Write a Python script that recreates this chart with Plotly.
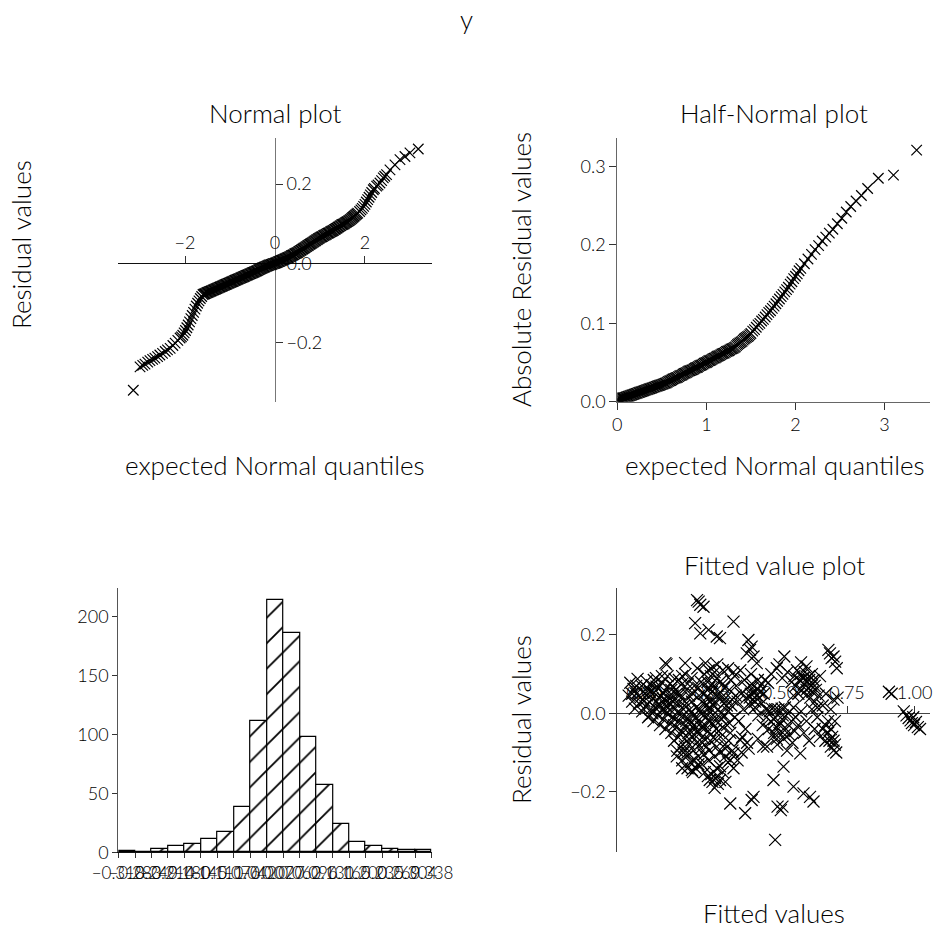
import plotly.graph_objects as go

W, H = 933, 929

# ---------------- data ----------------
normal_points = [
    (-3.15, -0.321), (-3.00, -0.262), (-2.94, -0.258), (-2.89, -0.255), (-2.83, -0.250),
    (-2.78, -0.246), (-2.72, -0.243), (-2.67, -0.240), (-2.61, -0.236), (-2.56, -0.232),
    (-2.50, -0.228), (-2.44, -0.223), (-2.39, -0.219), (-2.33, -0.215), (-2.27, -0.208),
    (-2.22, -0.202), (-2.16, -0.195), (-2.11, -0.189),
    (-2.08, -0.186), (-2.05, -0.182), (-2.02, -0.176), (-1.99, -0.170), (-1.96, -0.163),
    (-1.93, -0.156), (-1.90, -0.148), (-1.87, -0.140), (-1.84, -0.132), (-1.81, -0.124),
    (-1.78, -0.116), (-1.75, -0.108), (-1.72, -0.101), (-1.69, -0.095), (-1.66, -0.089),
    (-1.63, -0.084),
    (-1.60, -0.079), (-1.56, -0.077), (-1.52, -0.075), (-1.48, -0.073), (-1.44, -0.071),
    (-1.40, -0.069), (-1.36, -0.067), (-1.32, -0.065), (-1.28, -0.063), (-1.24, -0.061),
    (-1.20, -0.059), (-1.16, -0.057), (-1.12, -0.055), (-1.08, -0.053), (-1.04, -0.051),
    (-1.00, -0.049), (-0.96, -0.047), (-0.92, -0.045), (-0.88, -0.043), (-0.84, -0.041),
    (-0.80, -0.039), (-0.76, -0.037), (-0.72, -0.035), (-0.68, -0.033), (-0.64, -0.031),
    (-0.60, -0.029), (-0.56, -0.027), (-0.52, -0.025), (-0.48, -0.023), (-0.44, -0.021),
    (-0.40, -0.019), (-0.36, -0.016), (-0.32, -0.014), (-0.28, -0.012), (-0.24, -0.010),
    (-0.20, -0.008), (-0.16, -0.006), (-0.12, -0.004), (-0.08, -0.003), (-0.04, -0.001),
    (0.00, 0.000), (0.04, 0.002), (0.08, 0.004), (0.12, 0.006), (0.16, 0.008),
    (0.20, 0.010), (0.24, 0.012), (0.28, 0.014), (0.32, 0.016), (0.36, 0.019),
    (0.40, 0.021), (0.44, 0.024), (0.48, 0.026), (0.52, 0.029), (0.56, 0.032),
    (0.60, 0.035), (0.64, 0.038), (0.68, 0.041), (0.72, 0.044), (0.76, 0.047),
    (0.80, 0.050), (0.84, 0.053), (0.88, 0.056), (0.92, 0.059), (0.96, 0.062),
    (1.00, 0.065), (1.04, 0.067), (1.08, 0.070), (1.12, 0.072), (1.16, 0.075),
    (1.20, 0.077), (1.24, 0.080), (1.28, 0.082), (1.32, 0.085), (1.36, 0.088),
    (1.40, 0.091), (1.44, 0.094), (1.48, 0.097), (1.52, 0.099), (1.56, 0.102),
    (1.60, 0.105), (1.64, 0.108), (1.68, 0.111), (1.72, 0.115), (1.76, 0.119),
    (1.80, 0.123), (1.84, 0.127),
    (1.88, 0.131), (1.91, 0.135), (1.94, 0.139), (1.97, 0.144), (2.00, 0.149),
    (2.03, 0.155), (2.06, 0.161), (2.09, 0.167), (2.12, 0.173), (2.15, 0.179),
    (2.185, 0.186), (2.21, 0.189), (2.259, 0.195), (2.29, 0.198), (2.333, 0.203),
    (2.37, 0.209), (2.407, 0.216), (2.44, 0.220), (2.48, 0.224), (2.556, 0.236),
    (2.667, 0.249), (2.778, 0.262), (2.889, 0.270), (3.00, 0.279), (3.185, 0.289),
]
normal_points_band = [
    (-1.58, -0.078), (-1.54, -0.076), (-1.50, -0.074), (-1.46, -0.072), (-1.42, -0.070),
    (-1.38, -0.068), (-1.34, -0.066), (-1.30, -0.064), (-1.26, -0.062), (-1.22, -0.060),
    (-1.18, -0.058), (-1.14, -0.056), (-1.10, -0.054), (-1.06, -0.052), (-1.02, -0.050),
    (-0.98, -0.048), (-0.94, -0.046), (-0.90, -0.044), (-0.86, -0.042), (-0.82, -0.040),
    (-0.78, -0.038), (-0.74, -0.036), (-0.70, -0.034), (-0.66, -0.032), (-0.62, -0.030),
    (-0.58, -0.028), (-0.54, -0.026), (-0.50, -0.024), (-0.46, -0.022), (-0.42, -0.020),
    (-0.38, -0.018), (-0.34, -0.015), (-0.30, -0.013), (-0.26, -0.011), (-0.22, -0.009),
    (-0.18, -0.007), (-0.14, -0.005), (-0.10, -0.004), (-0.06, -0.002), (-0.02, -0.001),
    (0.02, 0.001), (0.06, 0.003), (0.10, 0.005), (0.14, 0.007), (0.18, 0.009),
    (0.22, 0.011), (0.26, 0.013), (0.30, 0.015), (0.34, 0.017), (0.38, 0.020),
    (0.42, 0.022), (0.46, 0.025), (0.50, 0.027), (0.54, 0.030), (0.58, 0.033),
    (0.62, 0.036), (0.66, 0.039), (0.70, 0.042), (0.74, 0.045), (0.78, 0.048),
    (0.82, 0.051), (0.86, 0.054), (0.90, 0.057), (0.94, 0.060), (0.98, 0.063),
    (1.02, 0.066), (1.06, 0.068), (1.10, 0.071), (1.14, 0.073), (1.18, 0.076),
    (1.22, 0.078), (1.26, 0.081), (1.30, 0.083), (1.34, 0.086), (1.38, 0.089),
    (1.42, 0.092), (1.46, 0.095), (1.50, 0.098), (1.54, 0.100), (1.58, 0.103),
    (1.62, 0.106), (1.66, 0.109), (1.70, 0.113), (1.74, 0.117), (1.78, 0.121),
    (1.82, 0.125),
]

half_points = [
    (0.000, 0.003), (0.025, 0.004), (0.050, 0.005), (0.075, 0.005), (0.100, 0.006),
    (0.125, 0.007), (0.150, 0.008), (0.175, 0.009), (0.200, 0.010), (0.225, 0.011),
    (0.250, 0.012), (0.275, 0.013), (0.300, 0.014), (0.325, 0.015), (0.350, 0.016),
    (0.375, 0.017), (0.400, 0.018), (0.425, 0.019), (0.450, 0.020), (0.475, 0.021),
    (0.500, 0.022), (0.525, 0.023), (0.550, 0.024), (0.575, 0.026), (0.600, 0.027),
    (0.625, 0.029), (0.650, 0.030), (0.675, 0.031), (0.700, 0.033), (0.725, 0.034),
    (0.750, 0.036), (0.775, 0.037), (0.800, 0.039), (0.825, 0.040), (0.850, 0.041),
    (0.875, 0.043), (0.900, 0.044), (0.925, 0.046), (0.950, 0.047), (0.975, 0.049),
    (1.000, 0.050), (1.025, 0.052), (1.050, 0.053), (1.075, 0.055), (1.100, 0.056),
    (1.125, 0.058), (1.150, 0.059), (1.175, 0.061), (1.200, 0.062), (1.225, 0.064),
    (1.250, 0.065), (1.275, 0.067), (1.300, 0.068), (1.325, 0.070), (1.350, 0.073),
    (1.375, 0.075), (1.400, 0.077), (1.425, 0.080), (1.450, 0.082), (1.475, 0.084),
    (1.500, 0.087), (1.52, 0.090), (1.54, 0.092), (1.56, 0.095), (1.58, 0.098),
    (1.60, 0.100), (1.62, 0.103), (1.64, 0.105), (1.66, 0.108), (1.68, 0.111),
    (1.70, 0.114), (1.72, 0.116), (1.74, 0.119), (1.76, 0.122), (1.78, 0.125),
    (1.80, 0.128), (1.82, 0.131), (1.84, 0.134), (1.86, 0.137), (1.88, 0.140),
    (1.90, 0.143), (1.92, 0.146), (1.94, 0.150), (1.96, 0.153), (1.98, 0.157),
    (2.00, 0.160), (2.02, 0.163), (2.04, 0.167), (2.06, 0.170),
    (2.10, 0.176), (2.14, 0.182), (2.18, 0.188), (2.22, 0.194), (2.26, 0.199),
    (2.30, 0.205), (2.34, 0.210), (2.38, 0.215), (2.42, 0.220), (2.47, 0.227),
    (2.52, 0.234), (2.57, 0.242), (2.62, 0.249), (2.68, 0.256), (2.74, 0.263),
    (2.81, 0.272), (2.93, 0.285), (3.10, 0.289), (3.36, 0.321),
]
half_points_band = [
    (0.0125, 0.0035), (0.0375, 0.0045), (0.0625, 0.005), (0.0875, 0.0055), (0.1125, 0.0065),
    (0.1375, 0.0075), (0.1625, 0.0085), (0.1875, 0.0095), (0.2125, 0.0105), (0.2375, 0.0115),
    (0.2625, 0.0125), (0.2875, 0.0135), (0.3125, 0.0145), (0.3375, 0.0155), (0.3625, 0.0165),
    (0.3875, 0.0175), (0.4125, 0.0185), (0.4375, 0.0195), (0.4625, 0.0205), (0.4875, 0.0215),
    (0.5125, 0.0225), (0.5375, 0.0235), (0.5625, 0.025), (0.5875, 0.0265), (0.6125, 0.028),
    (0.6375, 0.0295), (0.6625, 0.0305), (0.6875, 0.032), (0.7125, 0.0335), (0.7375, 0.035),
    (0.7625, 0.0365), (0.7875, 0.038), (0.8125, 0.0395), (0.8375, 0.0405), (0.8625, 0.042),
    (0.8875, 0.0435), (0.9125, 0.045), (0.9375, 0.0465), (0.9625, 0.048), (0.9875, 0.0495),
    (1.0125, 0.051), (1.0375, 0.0525), (1.0625, 0.054), (1.0875, 0.0555), (1.1125, 0.057),
    (1.1375, 0.0585), (1.1625, 0.060), (1.1875, 0.0615), (1.2125, 0.063), (1.2375, 0.0645),
    (1.2625, 0.066), (1.2875, 0.0675), (1.3125, 0.069), (1.3375, 0.0715), (1.3625, 0.074),
    (1.3875, 0.076), (1.4125, 0.0785), (1.4375, 0.081), (1.4625, 0.083), (1.4875, 0.0855),
]

hist_counts = [1, 0, 3, 5, 7, 11, 17, 38, 111, 214, 186, 98, 57, 24, 9, 5, 3, 2, 2]
hist_edges = [-0.318, -0.283, -0.249, -0.214, -0.180, -0.145, -0.111, -0.076, -0.042, -0.007,
              0.027, 0.062, 0.096, 0.131, 0.165, 0.200, 0.235, 0.269, 0.304, 0.338]
hist_tick_labels = ["\u22120.318", "\u22120.283", "\u22120.249", "\u22120.214", "\u22120.180",
                    "\u22120.145", "\u22120.111", "\u22120.076", "\u22120.042", "\u22120.007",
                    "0.027", "0.062", "0.096", "0.131", "0.165", "0.200", "0.235", "0.269",
                    "0.304", "0.338"]

fitted_points = [
    # left cluster
    (-0.058, 0.045), (-0.052, 0.078), (-0.045, 0.030), (-0.040, 0.062), (-0.035, 0.012),
    (-0.030, 0.050), (-0.025, 0.088), (-0.020, 0.025), (-0.015, 0.040), (-0.010, 0.070),
    (-0.008, 0.005), (-0.004, 0.055), (0.000, 0.032), (0.004, 0.018), (0.008, 0.082),
    (0.010, 0.046), (0.014, -0.010), (0.018, 0.060), (0.020, 0.028), (0.024, 0.010),
    (0.028, 0.072), (0.030, 0.038), (0.034, -0.020), (0.036, 0.052), (0.040, 0.015),
    (0.043, 0.090), (0.046, 0.030), (0.050, -0.005), (0.052, 0.065), (0.055, 0.022),
    (0.058, -0.030), (0.060, 0.045), (0.064, 0.008), (0.066, 0.078), (0.070, -0.015),
    (0.072, 0.035), (0.075, 0.058), (0.078, -0.040), (0.080, 0.018), (0.084, 0.000),
    (0.086, 0.095), (0.090, 0.040), (0.093, -0.025), (0.096, 0.025), (0.100, 0.060),
    (0.010, 0.065), (0.020, -0.005), (-0.030, 0.070), (-0.045, 0.050), (0.035, 0.085),
    (0.065, 0.095), (0.055, 0.040), (0.075, 0.005), (0.095, 0.075), (0.115, 0.060),
    (0.020, 0.055), (0.030, 0.000), (0.045, 0.068), (0.060, 0.020), (0.070, 0.050),
    (0.085, 0.030), (0.095, 0.010),
    # dense central cluster
    (0.082, 0.125), (0.100, -0.050), (0.104, -0.010), (0.108, 0.030), (0.110, -0.070),
    (0.114, 0.012), (0.118, -0.035), (0.120, 0.050), (0.124, -0.060), (0.126, 0.000),
    (0.130, -0.020), (0.133, -0.085), (0.136, 0.040), (0.138, -0.045), (0.142, -0.005),
    (0.145, -0.100), (0.148, 0.020), (0.150, -0.065), (0.153, -0.030), (0.156, 0.060),
    (0.158, -0.110), (0.160, -0.012), (0.163, -0.050), (0.166, 0.008), (0.168, -0.080),
    (0.171, -0.125), (0.174, -0.025), (0.176, 0.030), (0.179, -0.060), (0.182, -0.095),
    (0.184, -0.005), (0.187, -0.040), (0.190, -0.140), (0.192, 0.015), (0.195, -0.075),
    (0.198, -0.020), (0.200, -0.110), (0.203, 0.045), (0.206, -0.050), (0.208, -0.090),
    (0.211, -0.002), (0.214, -0.130), (0.216, -0.035), (0.219, 0.025), (0.222, -0.065),
    (0.224, -0.150), (0.227, -0.010), (0.230, -0.085), (0.233, 0.060), (0.236, -0.045),
    (0.238, -0.120), (0.241, 0.005), (0.244, -0.070), (0.247, 0.035), (0.250, -0.025),
    (0.105, 0.070), (0.128, 0.085), (0.140, 0.075), (0.152, 0.100), (0.165, 0.045),
    (0.175, 0.090), (0.185, 0.070), (0.196, 0.115), (0.210, 0.080), (0.180, -0.150),
    (0.160, -0.140), (0.140, -0.120), (0.122, -0.095), (0.112, 0.088), (0.150, 0.030),
    (0.105, 0.045), (0.115, -0.015), (0.125, 0.025), (0.135, -0.055), (0.145, 0.010),
    (0.155, -0.020), (0.165, -0.065), (0.175, 0.005), (0.185, -0.030), (0.195, -0.050),
    (0.205, 0.010), (0.215, -0.075), (0.225, -0.030), (0.235, -0.005), (0.245, -0.055),
    (0.110, -0.030), (0.130, 0.050), (0.150, -0.085), (0.170, -0.045), (0.190, -0.010),
    (0.210, -0.035), (0.230, 0.020), (0.120, -0.110), (0.140, -0.140), (0.160, -0.100),
    (0.180, -0.120), (0.200, -0.130), (0.220, -0.105), (0.240, -0.095), (0.140, 0.095),
    (0.160, 0.075), (0.180, 0.050), (0.200, 0.065), (0.220, 0.050), (0.240, 0.065),
    # right part of central cluster
    (0.222, 0.100), (0.226, 0.128), (0.230, 0.040), (0.234, 0.080), (0.238, 0.110),
    (0.242, 0.015), (0.246, 0.095), (0.250, 0.055), (0.254, -0.005), (0.258, 0.070),
    (0.262, 0.030), (0.266, -0.040), (0.270, 0.090), (0.274, 0.010), (0.278, 0.050),
    (0.282, -0.060), (0.286, -0.015), (0.290, 0.075), (0.294, 0.025), (0.298, -0.080),
    (0.302, 0.040), (0.306, -0.030), (0.310, 0.005), (0.314, 0.060), (0.318, -0.050),
    (0.322, 0.020), (0.326, -0.095), (0.330, 0.105), (0.334, -0.010), (0.338, 0.045),
    (0.270, 0.125), (0.255, 0.118), (0.290, 0.110), (0.300, -0.110), (0.312, -0.070),
    (0.268, -0.085), (0.284, 0.000), (0.245, -0.020), (0.262, -0.065), (0.296, 0.065),
    (0.255, 0.020), (0.265, -0.020), (0.275, -0.045), (0.285, 0.040), (0.295, -0.005),
    (0.305, 0.020), (0.315, -0.025), (0.325, 0.035), (0.250, 0.075), (0.270, 0.045),
    (0.290, -0.035), (0.260, -0.110), (0.280, -0.100), (0.300, -0.090), (0.320, 0.085),
    (0.310, 0.115), (0.280, 0.080), (0.260, 0.105),
    # low group
    (0.235, -0.160), (0.242, -0.170), (0.248, -0.155), (0.252, -0.175), (0.258, -0.150),
    (0.262, -0.165), (0.268, -0.140), (0.272, -0.180), (0.280, -0.135), (0.290, -0.150),
    (0.260, -0.190), (0.310, -0.125), (0.330, -0.140), (0.345, -0.120), (0.300, -0.175),
    # high outliers
    (0.195, 0.289), (0.201, 0.285), (0.207, 0.277), (0.219, 0.272), (0.188, 0.230),
    (0.207, 0.204), (0.238, 0.213), (0.268, 0.196), (0.280, 0.192), (0.330, 0.234),
    (0.078, 0.128), (0.151, 0.128),
    # cluster around 0.4
    (0.335, 0.095), (0.340, 0.070), (0.345, 0.030), (0.350, -0.020), (0.355, 0.110),
    (0.358, 0.050), (0.362, -0.060), (0.366, 0.010), (0.370, 0.085), (0.374, -0.040),
    (0.378, 0.040), (0.382, 0.065), (0.386, -0.090), (0.390, 0.020), (0.394, 0.050),
    (0.398, 0.075), (0.402, 0.035), (0.406, 0.055), (0.410, 0.015), (0.414, 0.045),
    (0.418, 0.060), (0.422, -0.005), (0.426, 0.040), (0.430, 0.070), (0.434, 0.025),
    (0.438, -0.030), (0.442, 0.050), (0.446, 0.085), (0.450, 0.010), (0.380, -0.075),
    (0.420, -0.065), (0.440, -0.085), (0.395, 0.100), (0.360, -0.100),
    (0.400, 0.065), (0.410, 0.030), (0.430, 0.055), (0.390, 0.040), (0.420, 0.085),
    (0.385, 0.187), (0.391, 0.162), (0.379, 0.153), (0.404, 0.145), (0.397, 0.170),
    (0.416, 0.128),
    # cluster around 0.5
    (0.452, -0.010), (0.456, 0.008), (0.460, -0.040), (0.464, 0.005), (0.468, -0.020),
    (0.472, 0.012), (0.476, -0.060), (0.480, -0.015), (0.484, 0.010), (0.488, -0.035),
    (0.492, -0.080), (0.496, 0.010), (0.500, -0.050), (0.504, -0.025), (0.508, 0.012),
    (0.512, -0.005), (0.516, -0.065), (0.520, 0.015), (0.524, -0.040), (0.528, -0.095),
    (0.532, 0.000), (0.536, -0.055), (0.552, 0.045), (0.544, -0.020), (0.548, -0.075),
    (0.552, 0.015), (0.556, -0.045), (0.470, 0.100), (0.490, 0.115), (0.510, 0.090),
    (0.500, 0.125), (0.530, 0.105), (0.458, 0.078), (0.518, 0.145), (0.545, 0.080),
    (0.480, -0.050), (0.500, -0.030), (0.520, -0.055), (0.510, -0.015), (0.490, -0.065),
    # cluster around 0.6 (upper)
    (0.555, 0.095), (0.560, 0.070), (0.565, 0.110), (0.570, 0.050), (0.574, 0.085),
    (0.578, 0.100), (0.582, 0.060), (0.586, 0.090), (0.590, 0.075), (0.594, 0.105),
    (0.598, 0.045), (0.602, 0.080), (0.606, 0.065), (0.610, 0.095), (0.614, 0.040),
    (0.618, 0.070), (0.622, 0.055), (0.626, 0.085), (0.630, 0.030), (0.635, 0.060),
    (0.640, 0.015), (0.645, 0.045), (0.650, 0.095), (0.600, 0.120), (0.580, 0.130),
    (0.610, 0.085), (0.620, 0.100), (0.590, 0.090), (0.630, 0.070), (0.600, 0.060),
    # cluster around 0.65 (lower)
    (0.560, -0.010), (0.570, -0.030), (0.580, 0.005), (0.590, -0.050), (0.600, -0.020),
    (0.610, -0.070), (0.620, 0.010), (0.630, -0.040), (0.640, -0.010), (0.650, -0.060),
    (0.660, 0.020), (0.670, -0.030), (0.680, -0.050), (0.685, -0.070), (0.690, -0.085),
    (0.695, -0.060), (0.700, -0.095), (0.705, -0.080), (0.710, -0.100), (0.700, 0.035),
    (0.690, 0.010), (0.705, -0.020), (0.672, 0.050), (0.715, 0.040),
    (0.660, -0.040), (0.670, -0.070), (0.690, -0.040), (0.700, -0.070), (0.680, -0.020),
    (0.687, 0.153), (0.700, 0.145), (0.681, 0.162), (0.706, 0.132), (0.693, 0.141),
    (0.712, 0.115),
    # near 1
    (0.905, 0.055), (0.915, 0.050),
    (0.960, 0.005), (0.970, -0.005), (0.978, -0.012), (0.985, -0.018), (0.990, -0.025),
    (0.998, -0.030), (1.005, -0.022), (1.012, -0.035), (1.020, -0.040), (0.995, -0.010),
    # low outliers
    (0.176, -0.145), (0.318, -0.230), (0.373, -0.255), (0.404, -0.213), (0.397, -0.221),
    (0.478, -0.170), (0.493, -0.238), (0.505, -0.247), (0.511, -0.238), (0.484, -0.323),
    (0.515, -0.136), (0.552, -0.187), (0.589, -0.204), (0.613, -0.213), (0.626, -0.225),
    (0.577, -0.102), (0.454, -0.085), (0.330, -0.102), (0.355, -0.068), (0.280, -0.170),
    (0.318, -0.119),
]

# ---------------- derived lists ----------------
normal_all = normal_points + normal_points_band
half_all = half_points + half_points_band
normal_x = [p[0] for p in normal_all]
normal_y = [p[1] for p in normal_all]
half_x = [p[0] for p in half_all]
half_y = [p[1] for p in half_all]
fit_x = [p[0] for p in fitted_points]
fit_y = [p[1] for p in fitted_points]
bar_x = [(a + b) / 2 for a, b in zip(hist_edges[:-1], hist_edges[1:])]
bar_w = [(b - a) for a, b in zip(hist_edges[:-1], hist_edges[1:])]

FONT = "Lato, Liberation Sans, Arial, sans-serif"
WT = 300
tickfont = dict(family=FONT, size=18, color="#000", weight=WT)


def px_x(p):
    return p / W


def px_y(p):
    return 1 - p / H


fig = go.Figure()

mk = dict(symbol="x-thin", size=10.5, color="black", line=dict(width=1.2, color="black"))

fig.add_trace(go.Scatter(x=normal_x, y=normal_y, mode="markers", marker=mk,
                         xaxis="x", yaxis="y", showlegend=False))
fig.add_trace(go.Scatter(x=half_x, y=half_y, mode="markers", marker=mk,
                         xaxis="x2", yaxis="y2", showlegend=False))
fig.add_trace(go.Bar(x=bar_x, y=hist_counts, width=bar_w,
                     marker=dict(color="white", line=dict(color="black", width=1.2),
                                 pattern=dict(shape="/", fgcolor="black", bgcolor="white",
                                              fgopacity=1, size=18, solidity=0.1)),
                     xaxis="x3", yaxis="y3", showlegend=False))
mk4 = dict(symbol="x-thin", size=12, color="black", line=dict(width=1.2, color="black"))
fig.add_trace(go.Scatter(x=fit_x, y=fit_y, mode="markers", marker=mk4,
                         xaxis="x4", yaxis="y4", showlegend=False))

# panel geometry
p1x = [px_x(118), px_x(432)]
p1y = [px_y(401.7), px_y(138.3)]
p1xr = [-3.49, 3.49]
p1yr = [-0.350, 0.316]
p2x = [px_x(617.3), px_x(930)]
p3x = [px_x(118.3), px_x(431.7)]
p3y = [px_y(852.3), px_y(588)]
p4y = [px_y(851.7), px_y(588.3)]
p4xr = [-0.1, 1.057]
p4yr = [-0.353, 0.319]

pos1_x0 = p1y[0] + (0 - p1yr[0]) / (p1yr[1] - p1yr[0]) * (p1y[1] - p1y[0])
pos1_y0 = p1x[0] + (0 - p1xr[0]) / (p1xr[1] - p1xr[0]) * (p1x[1] - p1x[0])
pos4_x0 = p4y[0] + (0 - p4yr[0]) / (p4yr[1] - p4yr[0]) * (p4y[1] - p4y[0])

common = dict(showgrid=False, zeroline=False, showline=True, ticks="outside",
              ticklen=7, tickwidth=1, tickfont=tickfont, tickcolor="#333",
              automargin=False)

fig.update_layout(
    width=W, height=H, autosize=False,
    margin=dict(l=0, r=0, t=0, b=0, pad=0, autoexpand=False),
    paper_bgcolor="white", plot_bgcolor="rgba(0,0,0,0)",
    font=dict(family=FONT, color="#000", weight=WT),
    bargap=0, showlegend=False,
    xaxis=dict(domain=p1x, range=p1xr, anchor="free", position=pos1_x0, side="top",
               tickvals=[-2, 0, 2], linecolor="#111", layer="below traces", **common),
    yaxis=dict(domain=p1y, range=p1yr, anchor="free", position=pos1_y0, side="right",
               tickvals=[-0.2, 0, 0.2], tickformat=".1f", linecolor="#777",
               layer="below traces", **common),
    xaxis2=dict(domain=p2x, range=[0, 3.51], anchor="y2", tickvals=[0, 1, 2, 3],
                linecolor="#666", **common),
    yaxis2=dict(domain=p1y, range=[0, 0.336], anchor="x2", tickvals=[0, 0.1, 0.2, 0.3],
                tickformat=".1f", linecolor="#666", **common),
    xaxis3=dict(domain=p3x, range=[hist_edges[0], hist_edges[-1]], anchor="y3",
                tickvals=hist_edges, ticktext=hist_tick_labels, tickangle=0,
                linecolor="#111", **{**common, "ticklen": 5,
                                     "tickfont": dict(family=FONT, size=17, color="#000",
                                                      weight=WT)}),
    yaxis3=dict(domain=p3y, range=[0, 224], anchor="x3", tickvals=[0, 50, 100, 150, 200],
                linecolor="#555", **{**common, "ticklen": 5}),
    xaxis4=dict(domain=p2x, range=p4xr, anchor="free", position=pos4_x0, side="top",
                tickvals=[0, 0.25, 0.5, 0.75, 1.0], tickformat=".2f", linecolor="#444",
                layer="below traces", **common),
    yaxis4=dict(domain=p4y, range=p4yr, anchor="x4", tickvals=[-0.2, 0, 0.2],
                tickformat=".1f", linecolor="#444", **common),
)

tfont = dict(family=FONT, size=26, color="#000", weight=WT)
ann = [
    ("y", 466.5, 19, 0),
    ("Normal plot", 275, 113, 0),
    ("expected Normal quantiles", 275, 465, 0),
    ("Residual values", 21, 245, -90),
    ("Half-Normal plot", 774, 113, 0),
    ("Absolute Residual values", 521, 270, -90),
    ("expected Normal quantiles", 775, 465, 0),
    ("Fitted value plot", 774, 565, 0),
    ("Residual values", 521, 720, -90),
    ("Fitted values", 774, 913, 0),
]
for text, ax, ay, ang in ann:
    fig.add_annotation(text=text, x=px_x(ax), y=px_y(ay), xref="paper", yref="paper",
                       showarrow=False, xanchor="center", yanchor="middle",
                       textangle=ang, font=tfont)

fig.write_html("out.html")
